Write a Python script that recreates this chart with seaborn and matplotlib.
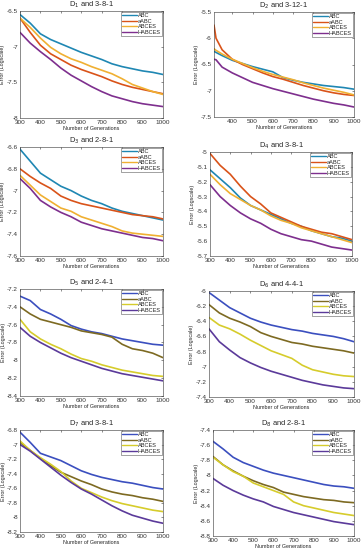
import numpy as np
import pandas as pd
import matplotlib
matplotlib.use("Agg")
import matplotlib.pyplot as plt
import seaborn as sns

# --- dados ---
algos = ["ABC", "aABC", "ABCES", "HABCES"]
gens = [300, 350, 400, 450, 500, 550, 600, 650, 700, 750, 800, 850, 900, 950, 1000]
gens_d2 = [310, 320, 350, 400, 450, 500, 550, 600, 650, 700, 750, 800, 850, 900, 950, 1000]

d1_abc = [-6.55, -6.67, -6.82, -6.90, -6.96, -7.02, -7.08, -7.13, -7.18, -7.24, -7.28, -7.31, -7.34, -7.36, -7.39]
d1_aabc = [-6.60, -6.80, -6.98, -7.10, -7.18, -7.26, -7.32, -7.37, -7.42, -7.48, -7.53, -7.57, -7.60, -7.63, -7.66]
d1_abces = [-6.60, -6.73, -6.88, -7.01, -7.10, -7.17, -7.22, -7.28, -7.33, -7.38, -7.45, -7.53, -7.58, -7.63, -7.67]
d1_habces = [-6.80, -6.95, -7.07, -7.18, -7.30, -7.40, -7.48, -7.56, -7.63, -7.69, -7.73, -7.77, -7.80, -7.82, -7.84]

d2_abc = [-6.25, -6.27, -6.33, -6.42, -6.48, -6.54, -6.59, -6.64, -6.75, -6.80, -6.84, -6.87, -6.90, -6.92, -6.94, -6.97]
d2_aabc = [-5.75, -6.00, -6.22, -6.40, -6.50, -6.58, -6.66, -6.73, -6.78, -6.84, -6.90, -6.95, -7.00, -7.04, -7.07, -7.09]
d2_abces = [-6.20, -6.23, -6.30, -6.40, -6.48, -6.56, -6.63, -6.69, -6.74, -6.79, -6.85, -6.90, -6.95, -6.99, -7.03, -7.08]
d2_habces = [-6.40, -6.41, -6.55, -6.66, -6.75, -6.84, -6.90, -6.96, -7.01, -7.06, -7.11, -7.16, -7.20, -7.24, -7.27, -7.31]

d3_abc = [-6.62, -6.73, -6.84, -6.90, -6.96, -7.00, -7.05, -7.09, -7.12, -7.16, -7.19, -7.21, -7.23, -7.25, -7.27]
d3_aabc = [-6.80, -6.87, -6.93, -6.98, -7.05, -7.09, -7.12, -7.14, -7.16, -7.18, -7.20, -7.22, -7.23, -7.24, -7.26]
d3_abces = [-6.86, -6.95, -7.04, -7.10, -7.16, -7.19, -7.24, -7.27, -7.30, -7.33, -7.37, -7.39, -7.40, -7.41, -7.42]
d3_habces = [-6.89, -6.98, -7.09, -7.15, -7.20, -7.24, -7.29, -7.32, -7.35, -7.37, -7.39, -7.41, -7.43, -7.44, -7.46]

d4_abc = [-5.12, -5.18, -5.24, -5.31, -5.36, -5.39, -5.42, -5.45, -5.48, -5.50, -5.53, -5.55, -5.57, -5.58, -5.60]
d4_aabc = [-5.01, -5.09, -5.15, -5.23, -5.30, -5.35, -5.41, -5.44, -5.47, -5.50, -5.52, -5.54, -5.55, -5.57, -5.59]
d4_abces = [-5.15, -5.22, -5.28, -5.32, -5.36, -5.39, -5.43, -5.46, -5.48, -5.51, -5.53, -5.55, -5.57, -5.59, -5.61]
d4_habces = [-5.22, -5.30, -5.36, -5.41, -5.45, -5.48, -5.52, -5.55, -5.57, -5.59, -5.60, -5.62, -5.64, -5.65, -5.66]

d5_abc = [-7.28, -7.33, -7.43, -7.48, -7.54, -7.61, -7.65, -7.68, -7.70, -7.73, -7.76, -7.78, -7.80, -7.82, -7.83]
d5_aabc = [-7.40, -7.48, -7.54, -7.57, -7.60, -7.63, -7.67, -7.69, -7.71, -7.74, -7.82, -7.87, -7.89, -7.92, -7.97]
d5_abces = [-7.54, -7.68, -7.76, -7.82, -7.87, -7.93, -7.98, -8.01, -8.05, -8.08, -8.11, -8.13, -8.15, -8.17, -8.18]
d5_habces = [-7.63, -7.73, -7.80, -7.86, -7.92, -7.97, -8.01, -8.05, -8.09, -8.12, -8.15, -8.17, -8.19, -8.21, -8.23]

d6_abc = [-6.02, -6.12, -6.22, -6.29, -6.36, -6.41, -6.45, -6.48, -6.51, -6.53, -6.56, -6.58, -6.60, -6.63, -6.67]
d6_aabc = [-6.18, -6.29, -6.36, -6.41, -6.47, -6.55, -6.60, -6.64, -6.68, -6.70, -6.73, -6.75, -6.77, -6.79, -6.82]
d6_abces = [-6.35, -6.45, -6.50, -6.57, -6.65, -6.72, -6.79, -6.84, -6.89, -6.98, -7.04, -7.07, -7.10, -7.12, -7.13]
d6_habces = [-6.50, -6.67, -6.78, -6.88, -6.95, -7.01, -7.06, -7.10, -7.14, -7.18, -7.21, -7.24, -7.26, -7.28, -7.29]

d7_abc = [-6.83, -6.97, -7.12, -7.17, -7.22, -7.29, -7.36, -7.41, -7.45, -7.48, -7.51, -7.53, -7.56, -7.59, -7.61]
d7_aabc = [-6.97, -7.08, -7.19, -7.29, -7.38, -7.44, -7.50, -7.55, -7.61, -7.65, -7.68, -7.70, -7.73, -7.75, -7.78]
d7_abces = [-6.95, -7.08, -7.18, -7.27, -7.37, -7.50, -7.60, -7.66, -7.72, -7.77, -7.81, -7.84, -7.87, -7.90, -7.92]
d7_habces = [-7.00, -7.09, -7.20, -7.31, -7.42, -7.52, -7.61, -7.68, -7.76, -7.84, -7.91, -7.97, -8.01, -8.05, -8.08]

d8_abc = [-7.55, -7.65, -7.76, -7.83, -7.88, -7.93, -7.97, -8.00, -8.03, -8.06, -8.09, -8.12, -8.14, -8.15, -8.17]
d8_aabc = [-7.75, -7.86, -7.94, -8.01, -8.07, -8.12, -8.16, -8.22, -8.25, -8.28, -8.30, -8.32, -8.33, -8.35, -8.36]
d8_abces = [-7.76, -7.86, -7.95, -8.01, -8.10, -8.15, -8.20, -8.25, -8.35, -8.40, -8.43, -8.46, -8.49, -8.51, -8.53]
d8_habces = [-8.04, -8.13, -8.20, -8.26, -8.31, -8.35, -8.41, -8.45, -8.49, -8.52, -8.55, -8.58, -8.61, -8.63, -8.65]

titles = ["D$_1$ and 3-8-1", "D$_2$ and 3-12-1", "D$_3$ and 2-8-1", "D$_4$ and 3-8-1",
          "D$_5$ and 2-4-1", "D$_6$ and 4-4-1", "D$_7$ and 3-8-1", "D$_8$ and 2-8-1"]

series = [
    (gens, [d1_abc, d1_aabc, d1_abces, d1_habces]),
    (gens_d2, [d2_abc, d2_aabc, d2_abces, d2_habces]),
    (gens, [d3_abc, d3_aabc, d3_abces, d3_habces]),
    (gens, [d4_abc, d4_aabc, d4_abces, d4_habces]),
    (gens, [d5_abc, d5_aabc, d5_abces, d5_habces]),
    (gens, [d6_abc, d6_aabc, d6_abces, d6_habces]),
    (gens, [d7_abc, d7_aabc, d7_abces, d7_habces]),
    (gens, [d8_abc, d8_aabc, d8_abces, d8_habces]),
]

ylims = [(-8, -6.5), (-7.5, -5.5), (-7.6, -6.6), (-5.7, -5.0),
         (-8.4, -7.2), (-7.4, -6.0), (-8.2, -6.8), (-8.8, -7.4)]
ysteps = [0.5, 0.5, 0.2, 0.1, 0.2, 0.2, 0.2, 0.2]

# paletas (parte de cima e parte de baixo)
pal_top = ["#1f87b3", "#d95319", "#f0b032", "#7e2f8e"]
pal_bot = ["#3b4fbf", "#7d6a22", "#d6cc2c", "#5b3a9a"]

# posições dos eixos em pixels: esquerda, direita, topo, base
W, H = 363, 550
boxes = [(20, 163, 11, 118), (214, 354, 12, 117),
         (20, 163, 147, 256), (210, 352, 152, 256),
         (20, 163, 289, 396), (209, 354, 291, 397),
         (20, 163, 430, 532), (213, 354, 430, 536)]

sns.set_style("white")
plt.rcParams["font.family"] = ["Liberation Sans", "DejaVu Sans"]

fig = plt.figure(figsize=(W / 100, H / 100), dpi=100)

for i, ((xs, ys), title) in enumerate(zip(series, titles)):
    l, r, t, b = boxes[i]
    ax = fig.add_axes([l / W, 1 - b / H, (r - l) / W, (b - t) / H])
    df = pd.DataFrame({
        "gen": np.tile(xs, len(algos)),
        "err": np.concatenate(ys),
        "alg": np.repeat(algos, len(xs)),
    })
    pal = pal_top if i < 4 else pal_bot
    sns.lineplot(data=df, x="gen", y="err", hue="alg", palette=pal, linewidth=1.2, ax=ax)

    ax.set_xlim(xs[0], 1000)
    ax.set_xticks(np.arange(300 if xs[0] == 300 else 400, 1001, 100))
    y0, y1 = ylims[i]
    ax.set_ylim(y0, y1)
    ax.set_yticks(np.round(np.arange(y0, y1 + 1e-9, ysteps[i]), 2))
    ax.yaxis.set_major_formatter(matplotlib.ticker.FuncFormatter(lambda v, p: f"{v:g}"))
    ax.tick_params(direction="in", length=1.5, width=0.4, labelsize=4.6, pad=1.5,
                   top=True, right=True, colors="#333333")
    for sp in ax.spines.values():
        sp.set_linewidth(0.4)
        sp.set_color("#333333")
    ax.set_title(title, fontsize=5.4, pad=3)
    ax.set_xlabel("Number of Generations", fontsize=3.9, labelpad=0.5)
    ax.set_ylabel("Error (Logscale)", fontsize=3.9, labelpad=1)
    leg = ax.legend(loc="upper right", fontsize=4.1, frameon=True, fancybox=False,
                    borderpad=0.2, labelspacing=0.1, handlelength=2.6, handletextpad=0.2,
                    borderaxespad=0.15, title=None)
    leg.get_frame().set_linewidth(0.4)
    leg.get_frame().set_edgecolor("#333333")
    for ln in leg.get_lines():
        ln.set_linewidth(1.0)

fig.savefig("out.png", dpi=100)
